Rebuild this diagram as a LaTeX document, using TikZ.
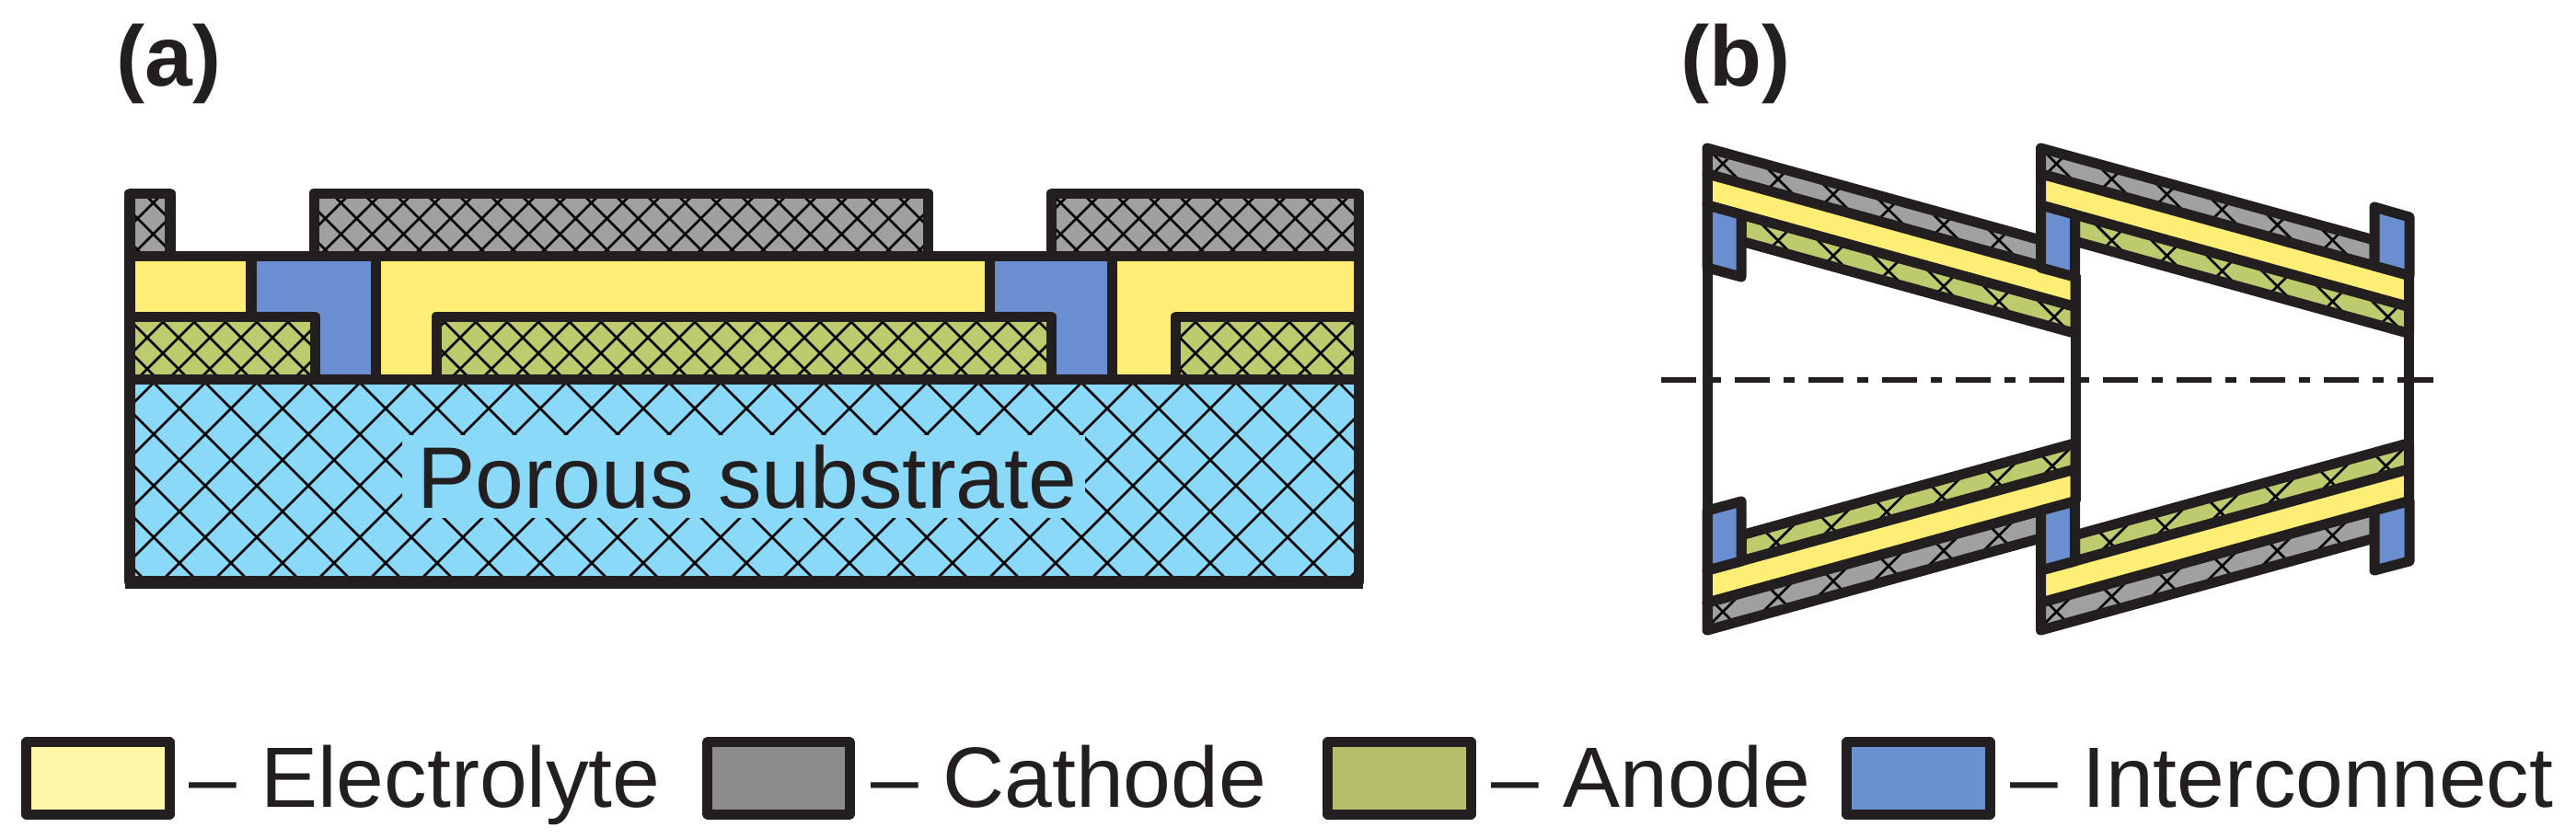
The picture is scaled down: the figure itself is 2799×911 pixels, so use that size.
\documentclass[tikz,border=0pt]{standalone}
\usepackage{fontspec}
\setmainfont{Liberation Sans}[Kerning=Off]

\definecolor{inkcol}{HTML}{231F20}
\definecolor{elytecol}{HTML}{FEEE75}
\definecolor{cathcol}{HTML}{A0A0A0}
\definecolor{anodecol}{HTML}{BDCB6E}
\definecolor{linkcol}{HTML}{6A8ECF}
\definecolor{subcol}{HTML}{8AD9F8}
\definecolor{legelyte}{HTML}{FFF6A8}
\definecolor{legcath}{HTML}{8C8C8C}
\definecolor{leganode}{HTML}{B5BE6A}
\definecolor{leglink}{HTML}{6C91CF}

\tikzset{
  outline/.style={draw=inkcol, line width=1.1mm, line join=round},
  hatchline/.style={draw=black!85!inkcol, line width=0.27mm},
  axisline/.style={draw=inkcol, line width=0.65mm, dash pattern=on 3.8mm off 1.5mm on 1.2mm off 1.5mm},
  panellabel/.style={anchor=base west, inner sep=0, text=inkcol, font=\fontsize{26.46}{30}\selectfont\bfseries},
  legendtext/.style={anchor=base west, inner sep=0, text=inkcol, font=\fontsize{26.46}{30}\selectfont},
  legendbox/.style={outline, minimum width=1.55cm, minimum height=0.78cm, inner sep=0}
}

% fill, period and phase of both hatch families, path
\newcommand{\layer}[6]{%
  \begin{scope}
    \clip #6;
    \fill[#1] #6;
    \foreach \k in {-30,...,110} {
      \draw[hatchline] ({#3+\k*#2},0) -- ++(1000,1000);
      \draw[hatchline] ({#5+\k*#4},0) -- ++(-1000,1000);
    }
  \end{scope}
  \draw[outline] #6;
}

\begin{document}
\begin{tikzpicture}[x=0.01cm, y=-0.01cm]
  \useasboundingbox (0,0) rectangle (2799,911);

  \node[panellabel] (labela) at (126,93) {(a)};
  \node[panellabel] (labelb) at (1826,93) {(b)};

  % panel a
  \layer{subcol}{56}{31}{56}{23}{(141,412) rectangle (1476,632)}
  \fill[subcol] (437,473) rectangle (1179,563);
  \node[anchor=base, inner sep=0, text=inkcol, font=\fontsize{27}{30}\selectfont] (porous) at (812,552) {Porous substrate};
  \draw[outline, line width=1.4mm] (136,632.5) -- (1481,632.5);

  \layer{cathcol}{34}{14}{34}{13}{(141,210) rectangle (185,278)}
  \layer{cathcol}{34}{14}{34}{13}{(341,210) rectangle (1008.5,278)}
  \layer{cathcol}{34}{14}{34}{13}{(1142.5,210) rectangle (1476,278)}

  \layer{anodecol}{34}{31}{34}{17}{(141,344) rectangle (342,412)}
  \layer{anodecol}{34}{31}{34}{17}{(474,344) rectangle (1142,412)}
  \layer{anodecol}{34}{31}{34}{17}{(1277.5,344) rectangle (1476,412)}

  \draw[outline, fill=elytecol] (141,278) rectangle (273,344);
  \draw[outline, fill=elytecol] (408,278) -- (1075.5,278) -- (1075.5,344) -- (474,344) -- (474,412) -- (408,412) -- cycle;
  \draw[outline, fill=elytecol] (1208.5,278) -- (1476,278) -- (1476,344) -- (1277.5,344) -- (1277.5,412) -- (1208.5,412) -- cycle;

  \draw[outline, fill=linkcol] (273,278) -- (408,278) -- (408,412) -- (342,412) -- (342,344) -- (273,344) -- cycle;
  \draw[outline, fill=linkcol] (1075.5,278) -- (1208.5,278) -- (1208.5,412) -- (1142,412) -- (1142,344) -- (1075.5,344) -- cycle;

  % panel b
  \foreach \xs/\gap in {1855/0,2217.5/1} {
    \begin{scope}[shift={(\xs,0)}]
      \layer{cathcol}{43.4}{-161}{76.6}{195}{(0,161) -- (362.5,261) -- (362.5,289) -- (0,189) -- cycle}
      \layer{anodecol}{43.4}{-141}{76.6}{415}{(37,233.2) -- (400,333.4) -- (400,362.4) -- (37,262.2) -- cycle}
      \draw[outline, fill=elytecol] (0,189) -- (400,299.4) -- (400,333.4) -- (0,223) -- cycle;
      \draw[outline, fill=linkcol] (0,223) -- (37,233.2) -- (37,301) -- (0,291) -- cycle;

      \layer{anodecol}{76.6}{-438}{43.4}{708}{(37,581.8) -- (400,481.6) -- (400,510) -- (37,610) -- cycle}
      \layer{cathcol}{76.6}{-265}{43.4}{899}{(0,655) -- (362.5,555) -- (362.5,585) -- (0,685) -- cycle}
      \draw[outline, fill=elytecol] (0,620) -- (400,510) -- (400,544.6) -- (0,655) -- cycle;
      \draw[outline, fill=linkcol] (0,555) -- (37,545) -- (37,610) -- (0,620) -- cycle;

      \draw[outline] (0,161) -- (0,291);
      \draw[outline] (0,555) -- (0,685);
      \ifnum\gap=0 \draw[outline] (0,291) -- (0,555); \fi
      \draw[outline] (400,299.4) -- (400,544.6);
    \end{scope}
  }
  \draw[outline, fill=linkcol] (2580,225) -- (2618,236) -- (2618,299.4) -- (2580,289) -- cycle;
  \draw[outline, fill=linkcol] (2580,555) -- (2618,544.6) -- (2618,610) -- (2580,620) -- cycle;

  \coordinate (axisleft) at (1805,413);
  \coordinate (axisright) at (2645,413);
  \draw[axisline] (axisleft) -- (axisright);

  % legend
  \node[legendbox, fill=legelyte] (boxelyte) at (106.5,846) {};
  \node[legendtext] (textelyte) at (205,877) {– Electrolyte};
  \node[legendbox, fill=legcath] (boxcath) at (846,846) {};
  \node[legendtext] (textcath) at (946,877) {– Cathode};
  \node[legendbox, fill=leganode] (boxanode) at (1520.5,846) {};
  \node[legendtext] (textanode) at (1620,877) {– Anode};
  \node[legendbox, fill=leglink] (boxlink) at (2084.5,846) {};
  \node[legendtext] (textlink) at (2184,877) {– Interconnect};
\end{tikzpicture}
\end{document}
